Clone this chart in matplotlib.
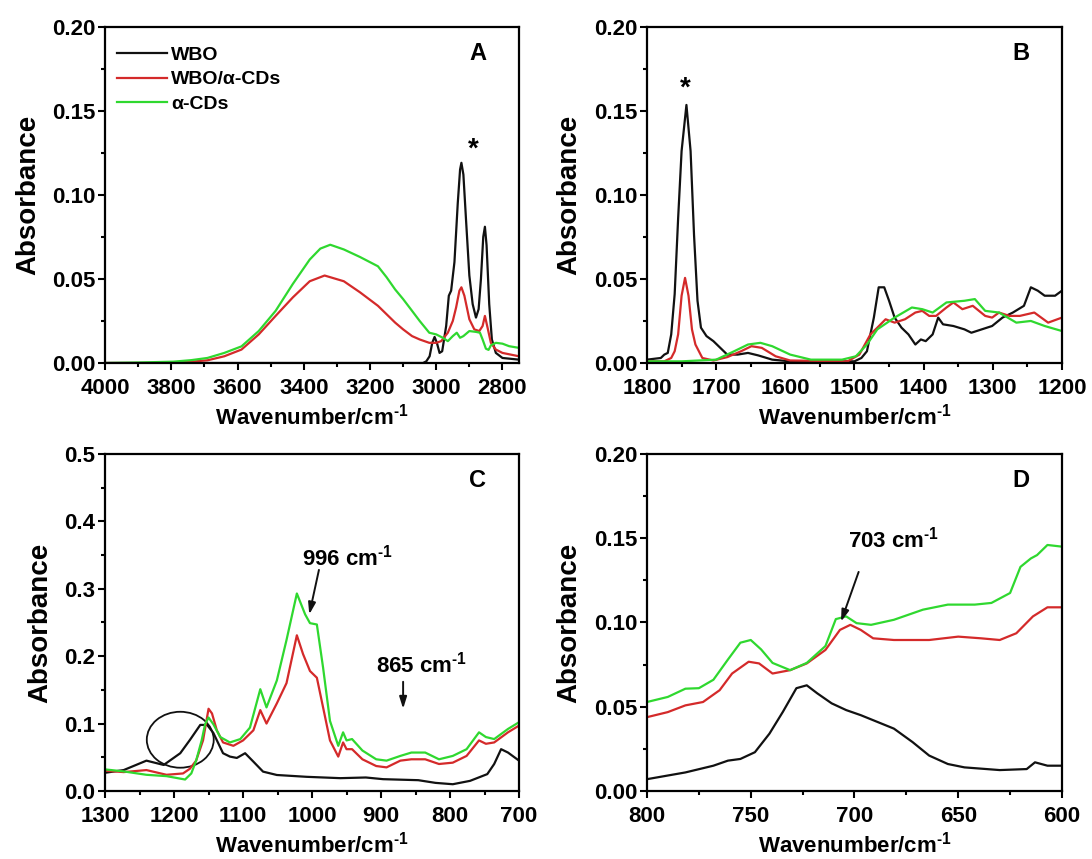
import numpy as np
import matplotlib.pyplot as plt
from matplotlib.ticker import MultipleLocator, FormatStrFormatter
from matplotlib.patches import Ellipse

plt.rcParams['font.family'] = ['Liberation Sans', 'DejaVu Sans']
plt.rcParams['font.weight'] = 'bold'
plt.rcParams['mathtext.fontset'] = 'custom'
plt.rcParams['mathtext.rm'] = 'Liberation Sans:bold'
plt.rcParams['mathtext.bf'] = 'Liberation Sans:bold'
plt.rcParams['mathtext.default'] = 'bf'

BLACK = '#111111'
RED = '#d42a2a'
GREEN = '#2fd82f'
LABELS = ['WBO', 'WBO/\u03b1-CDs', '\u03b1-CDs']
UNIT = r'cm$^{\text{-1}}$'

# ---------------- panel A : 4000-2750 cm-1
a_wbo_x = [4000, 3500, 3040, 3030, 3020, 3012, 3005, 2998, 2990, 2982, 2970, 2962, 2955,
           2945, 2935, 2928, 2924, 2918, 2910, 2900, 2890, 2880, 2872, 2865, 2858, 2853,
           2848, 2840, 2832, 2820, 2800, 2750]
a_wbo_y = [0.0, 0.0, 0.0, 0.001, 0.004, 0.012, 0.0155, 0.012, 0.006, 0.007, 0.022, 0.040, 0.043,
           0.060, 0.095, 0.115, 0.119, 0.112, 0.085, 0.052, 0.035, 0.027, 0.032, 0.050, 0.075, 0.081,
           0.070, 0.035, 0.014, 0.006, 0.003, 0.002]
a_mix_x = [4000, 3850, 3794, 3740, 3691, 3640, 3588, 3536, 3485, 3433, 3382, 3337, 3279, 3230,
           3176, 3150, 3124, 3100, 3073, 3050, 3021, 3000, 2985, 2965, 2950, 2940, 2930, 2924,
           2915, 2900, 2885, 2870, 2860, 2853, 2845, 2835, 2820, 2800, 2750]
a_mix_y = [0.0, 0.0, 0.0003, 0.0008, 0.0016, 0.004, 0.008, 0.017, 0.028, 0.039, 0.0486, 0.052,
           0.0486, 0.042, 0.034, 0.029, 0.024, 0.020, 0.016, 0.014, 0.012, 0.012, 0.013, 0.018,
           0.025, 0.033, 0.043, 0.045, 0.040, 0.026, 0.020, 0.019, 0.022, 0.028, 0.021, 0.012,
           0.008, 0.006, 0.004]
a_cd_x = [4000, 3900, 3794, 3740, 3691, 3640, 3588, 3536, 3485, 3433, 3382, 3350, 3320, 3279,
          3230, 3176, 3150, 3124, 3100, 3073, 3050, 3021, 3000, 2980, 2965, 2950, 2938, 2928,
          2918, 2900, 2880, 2868, 2860, 2850, 2842, 2835, 2820, 2800, 2780, 2750]
a_cd_y = [0.0, 0.0003, 0.0008, 0.0017, 0.003, 0.006, 0.0099, 0.019, 0.031, 0.047, 0.0615, 0.068,
          0.0703, 0.0675, 0.063, 0.0575, 0.051, 0.0437, 0.038, 0.031, 0.025, 0.018, 0.017, 0.015,
          0.013, 0.016, 0.018, 0.015, 0.016, 0.019, 0.0185, 0.018, 0.014, 0.0085, 0.0078, 0.0105,
          0.012, 0.0115, 0.010, 0.009]

# ---------------- panel B : 1800-1200 cm-1
b_wbo_x = [1800, 1780, 1775, 1770, 1765, 1760, 1755, 1750, 1743, 1737, 1732, 1727, 1722, 1714,
           1704, 1694, 1684, 1669, 1654, 1639, 1619, 1593, 1500, 1490, 1482, 1472, 1465, 1457,
           1450, 1442, 1432, 1422, 1412, 1404, 1397, 1387, 1379, 1372, 1357, 1341, 1331, 1316,
           1301, 1286, 1271, 1255, 1245, 1235, 1225, 1210, 1200]
b_wbo_y = [0.002, 0.003, 0.005, 0.006, 0.017, 0.041, 0.086, 0.126, 0.1534, 0.126, 0.076, 0.037,
           0.021, 0.016, 0.013, 0.009, 0.005, 0.005, 0.006, 0.0045, 0.002, 0.001, 0.001, 0.003,
           0.007, 0.027, 0.045, 0.045, 0.037, 0.027, 0.021, 0.017, 0.011, 0.014, 0.013, 0.017,
           0.027, 0.023, 0.022, 0.020, 0.018, 0.020, 0.022, 0.027, 0.030, 0.034, 0.045, 0.043,
           0.040, 0.040, 0.043]
b_mix_x = [1800, 1775, 1765, 1760, 1755, 1750, 1745, 1740, 1735, 1730, 1720, 1704, 1684, 1664,
           1649, 1634, 1614, 1593, 1510, 1493, 1477, 1467, 1455, 1442, 1427, 1412, 1402, 1392,
           1382, 1367, 1357, 1344, 1329, 1311, 1301, 1291, 1276, 1261, 1240, 1220, 1200]
b_mix_y = [0.001, 0.001, 0.003, 0.007, 0.017, 0.040, 0.0506, 0.040, 0.020, 0.011, 0.003, 0.0015,
           0.0035, 0.007, 0.010, 0.009, 0.004, 0.0015, 0.001, 0.005, 0.017, 0.021, 0.026, 0.024,
           0.026, 0.030, 0.031, 0.028, 0.028, 0.033, 0.036, 0.032, 0.034, 0.028, 0.027, 0.030,
           0.028, 0.028, 0.030, 0.024, 0.027]
b_cd_x = [1800, 1750, 1700, 1674, 1654, 1636, 1619, 1593, 1563, 1518, 1498, 1482, 1467, 1442,
          1417, 1402, 1387, 1367, 1341, 1326, 1311, 1291, 1266, 1245, 1225, 1200]
b_cd_y = [0.001, 0.001, 0.002, 0.007, 0.011, 0.012, 0.010, 0.005, 0.002, 0.002, 0.004, 0.011,
          0.020, 0.027, 0.033, 0.032, 0.030, 0.036, 0.037, 0.038, 0.031, 0.030, 0.024, 0.025,
          0.022, 0.019]

# ---------------- panel C : 1300-700 cm-1
c_wbo_x = [1300, 1273, 1240, 1215, 1191, 1177, 1162, 1152, 1143, 1129, 1119, 1109, 1097, 1085,
           1071, 1051, 1008, 959, 922, 897, 846, 821, 796, 771, 746, 736, 726, 716, 700]
c_wbo_y = [0.027, 0.031, 0.045, 0.0386, 0.056, 0.0757, 0.098, 0.098, 0.086, 0.056, 0.051, 0.049,
           0.056, 0.0435, 0.0287, 0.0237, 0.021, 0.019, 0.020, 0.0175, 0.016, 0.012, 0.010, 0.015,
           0.025, 0.040, 0.062, 0.057, 0.045]
c_mix_x = [1300, 1273, 1240, 1211, 1187, 1177, 1168, 1158, 1150, 1145, 1138, 1129, 1114, 1100,
           1085, 1075, 1066, 1051, 1037, 1022, 1013, 1003, 993, 984, 974, 962, 955, 950, 942,
           927, 907, 892, 872, 856, 836, 816, 796, 776, 758, 748, 736, 716, 700]
c_mix_y = [0.030, 0.028, 0.031, 0.024, 0.026, 0.033, 0.045, 0.075, 0.122, 0.115, 0.090, 0.072,
           0.067, 0.075, 0.090, 0.120, 0.100, 0.130, 0.160, 0.231, 0.203, 0.178, 0.168, 0.124,
           0.075, 0.051, 0.072, 0.062, 0.062, 0.047, 0.037, 0.035, 0.045, 0.047, 0.047, 0.040,
           0.042, 0.052, 0.075, 0.070, 0.072, 0.087, 0.097]
c_cd_x = [1300, 1273, 1240, 1211, 1184, 1175, 1168, 1160, 1155, 1150, 1143, 1133, 1119, 1104,
          1090, 1075, 1066, 1051, 1037, 1022, 1010, 1003, 993, 984, 974, 962, 955, 950, 942,
          927, 907, 892, 872, 856, 836, 816, 796, 776, 758, 748, 736, 716, 700]
c_cd_y = [0.032, 0.029, 0.024, 0.022, 0.017, 0.026, 0.045, 0.075, 0.099, 0.109, 0.099, 0.080,
          0.072, 0.077, 0.094, 0.151, 0.124, 0.164, 0.224, 0.293, 0.262, 0.249, 0.247, 0.183,
          0.104, 0.067, 0.087, 0.075, 0.077, 0.060, 0.047, 0.045, 0.052, 0.057, 0.057, 0.047,
          0.052, 0.062, 0.087, 0.080, 0.077, 0.092, 0.102]

# ---------------- panel D : 800-600 cm-1
d_wbo_x = [800, 781.5, 768, 761, 755, 748, 741, 734.5, 728, 723, 718, 711, 704, 697, 687, 681,
           672, 664, 655, 647, 630, 617, 613, 610, 607, 600]
d_wbo_y = [0.007, 0.011, 0.015, 0.018, 0.019, 0.023, 0.034, 0.047, 0.061, 0.0627, 0.058, 0.052,
           0.048, 0.045, 0.040, 0.037, 0.029, 0.021, 0.016, 0.014, 0.0124, 0.013, 0.017, 0.016,
           0.015, 0.015]
d_mix_x = [800, 790, 781.5, 773, 765, 759, 751, 746, 739.5, 731, 723, 714, 707, 702, 697, 691,
           681, 664, 650, 639, 630, 622, 614, 607, 600]
d_mix_y = [0.0438, 0.0468, 0.0508, 0.0528, 0.0598, 0.0697, 0.0767, 0.0757, 0.0697, 0.0717,
           0.0757, 0.0837, 0.0956, 0.0986, 0.0956, 0.0906, 0.0896, 0.0896, 0.0916, 0.0906,
           0.0896, 0.0936, 0.1036, 0.109, 0.109]
d_cd_x = [800, 790, 781.5, 775, 768, 761, 755, 750, 745, 739.5, 731, 723, 714, 709, 704, 699,
          692, 681, 667, 655, 642, 634, 625, 620, 615, 612, 607, 600]
d_cd_y = [0.0528, 0.0558, 0.0607, 0.061, 0.066, 0.078, 0.088, 0.0896, 0.084, 0.076, 0.0717,
          0.076, 0.086, 0.102, 0.1036, 0.0996, 0.0986, 0.1016, 0.1076, 0.1106, 0.1106, 0.1116,
          0.1175, 0.133, 0.138, 0.140, 0.146, 0.145]

ARROW = dict(arrowstyle='-|>,head_length=0.7,head_width=0.22', color=BLACK, lw=1.4,
             shrinkA=0, shrinkB=0)


def setup(ax, xlim, ylim, xmaj, xmin, ymaj, ymin, yfmt, letter):
    ax.set_xlim(*xlim)
    ax.set_ylim(*ylim)
    ax.xaxis.set_major_locator(MultipleLocator(xmaj))
    ax.xaxis.set_minor_locator(MultipleLocator(xmin))
    ax.yaxis.set_major_locator(MultipleLocator(ymaj))
    ax.yaxis.set_minor_locator(MultipleLocator(ymin))
    ax.yaxis.set_major_formatter(FormatStrFormatter(yfmt))
    ax.tick_params(which='both', direction='out', width=1.5, labelsize=16)
    ax.tick_params(axis='x', pad=6)
    ax.tick_params(axis='y', pad=2)
    ax.tick_params(which='major', length=5)
    ax.tick_params(which='minor', length=3)
    for s in ax.spines.values():
        s.set_linewidth(1.6)
    ax.set_xlabel('Wavenumber/' + UNIT, fontsize=16, fontweight='bold', labelpad=3)
    ax.set_ylabel('Absorbance', fontsize=20, fontweight='bold', labelpad=8)
    ax.text(0.90, 0.92, letter, transform=ax.transAxes, fontsize=17, fontweight='bold',
            ha='center', va='center')


def draw(ax, wbo, mix, cd):
    ax.plot(*wbo, color=BLACK, lw=1.6, label=LABELS[0])
    ax.plot(*mix, color=RED, lw=1.6, label=LABELS[1])
    ax.plot(*cd, color=GREEN, lw=1.6, label=LABELS[2])


fig = plt.figure(figsize=(10.92, 8.59), dpi=100)
axA = fig.add_axes([0.0962, 0.5774, 0.3791, 0.3917])
axB = fig.add_axes([0.5925, 0.5774, 0.3800, 0.3917])
axC = fig.add_axes([0.0962, 0.0792, 0.3791, 0.3923])
axD = fig.add_axes([0.5925, 0.0792, 0.3800, 0.3923])

draw(axA, (a_wbo_x, a_wbo_y), (a_mix_x, a_mix_y), (a_cd_x, a_cd_y))
setup(axA, (4000, 2750), (0, 0.2), 200, 100, 0.05, 0.025, '%.2f', 'A')
axA.text(2888, 0.127, '*', fontsize=20, fontweight='bold', ha='center', va='center')
axA.legend(loc='upper left', bbox_to_anchor=(0.005, 0.97), frameon=False,
           prop={'size': 14, 'weight': 'bold'}, handlelength=2.6, handletextpad=0.2,
           labelspacing=0.35, borderaxespad=0.3, borderpad=0.2)

draw(axB, (b_wbo_x, b_wbo_y), (b_mix_x, b_mix_y), (b_cd_x, b_cd_y))
setup(axB, (1800, 1200), (0, 0.2), 100, 50, 0.05, 0.025, '%.2f', 'B')
axB.text(1744, 0.163, '*', fontsize=20, fontweight='bold', ha='center', va='center')

draw(axC, (c_wbo_x, c_wbo_y), (c_mix_x, c_mix_y), (c_cd_x, c_cd_y))
setup(axC, (1300, 700), (0, 0.5), 100, 50, 0.1, 0.05, '%.1f', 'C')
axC.add_patch(Ellipse((1191, 0.076), 97, 0.083, fill=False, ec=BLACK, lw=1.3))
axC.text(949, 0.347, '996 ' + UNIT, fontsize=16, fontweight='bold', ha='center', va='center')
axC.annotate('', xy=(1004, 0.262), xytext=(990, 0.328), arrowprops=ARROW)
axC.text(841, 0.187, '865 ' + UNIT, fontsize=16, fontweight='bold', ha='center', va='center')
axC.annotate('', xy=(868, 0.122), xytext=(868, 0.162), arrowprops=ARROW)

draw(axD, (d_wbo_x, d_wbo_y), (d_mix_x, d_mix_y), (d_cd_x, d_cd_y))
setup(axD, (800, 600), (0, 0.2), 50, 25, 0.05, 0.025, '%.2f', 'D')
axD.text(681, 0.149, '703 ' + UNIT, fontsize=16, fontweight='bold', ha='center', va='center')
axD.annotate('', xy=(706.5, 0.1005), xytext=(698, 0.130), arrowprops=ARROW)

fig.savefig('out.png', dpi=100)
